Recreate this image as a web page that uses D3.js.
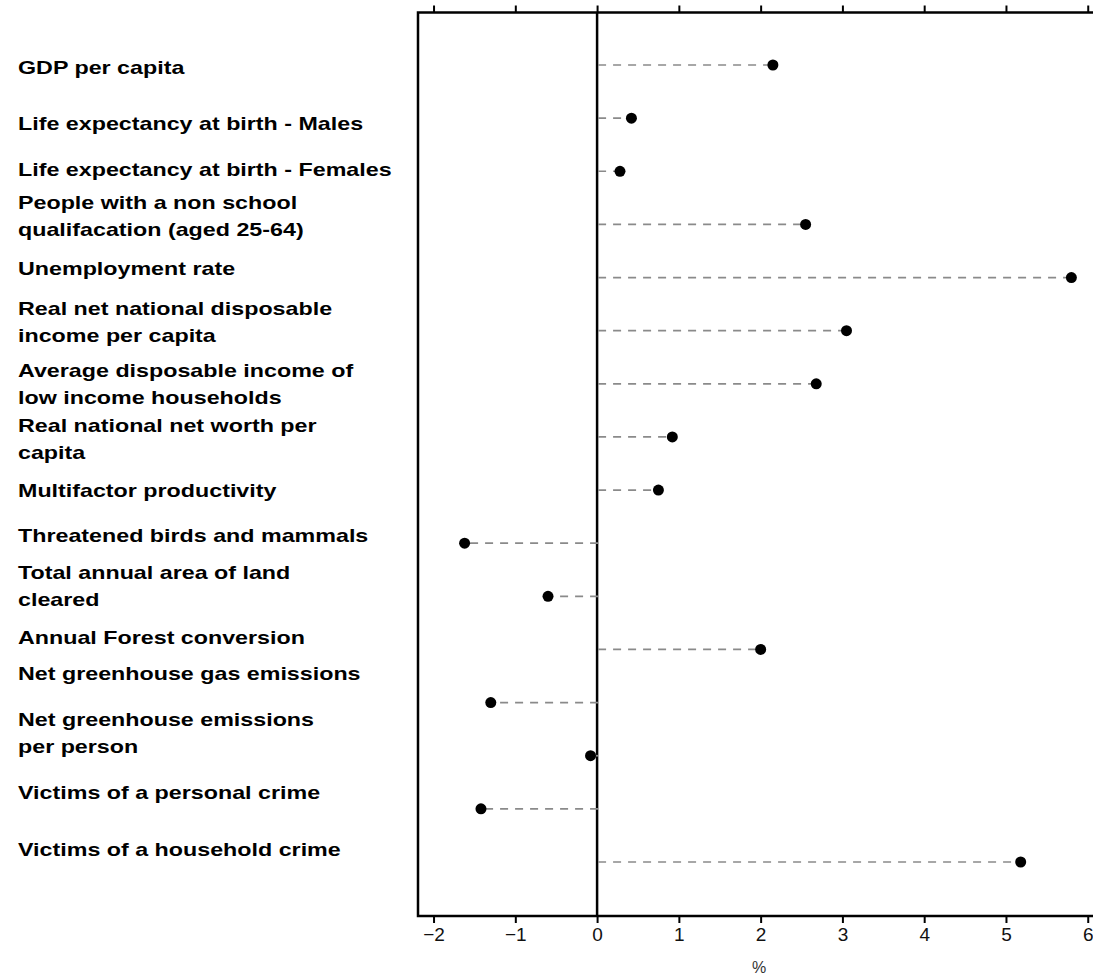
<!DOCTYPE html>
<html>
<head>
<meta charset="utf-8">
<script src="https://cdn.jsdelivr.net/npm/d3@7"></script>
<style>
  body { margin: 0; background: #fff; }
  svg { display: block; }
</style>
</head>
<body>
<div id="chart"></div>
<script>
// ******** data ********
const labels = [
  ['GDP per capita'],
  ['Life expectancy at birth - Males'],
  ['Life expectancy at birth - Females'],
  ['People with a non school', 'qualifacation (aged 25-64)'],
  ['Unemployment rate'],
  ['Real net national disposable', 'income per capita'],
  ['Average disposable income of', 'low income households'],
  ['Real national net worth per', 'capita'],
  ['Multifactor productivity'],
  ['Threatened birds and mammals'],
  ['Total annual area of land', 'cleared'],
  ['Annual Forest conversion'],
  ['Net greenhouse gas emissions'],
  ['Net greenhouse emissions', 'per person'],
  ['Victims of a personal crime'],
  ['Victims of a household crime']
];
const values = [2.15, 0.42, 0.28, 2.55, 5.8, 3.05, 2.68, 0.92, 0.75, -1.62, -0.6, 2.0, -1.3, -0.08, -1.42, 5.18];
const xTicks = [-2, -1, 0, 1, 2, 3, 4, 5, 6];
const axisTitle = '%';

// label placement relative to its row (the original labels sit a bit off the dots)
const labelShift = [2, 5, -2, -8, -9, -9, 0, 2, 0, -8, -10, -12, -29, -23, -16, -13];

//******** layout ********
const W = 1093, H = 976;
const plot = {left: 418, right: 1100, top: 12.5, bottom: 916};
const stretch = 1.33;   // text in the original is horizontally widened

const svg = d3.select('#chart').append('svg')
    .attr('width', W)
    .attr('height', H);

const x = d3.scaleLinear()
    .domain([-2.19, 6.15])
    .range([plot.left, plot.right]);

const y = d3.scalePoint()
    .domain(d3.range(values.length))
    .range([65, 862]);

// axes (ticks outward at top and bottom, labels only bottom)
const axisB = svg.append('g')
    .attr('transform', `translate(0,${plot.bottom})`)
    .call(d3.axisBottom(x).tickValues(xTicks).tickSize(7).tickSizeOuter(0).tickFormat(d3.format('d')));
axisB.select('.domain').remove();
axisB.selectAll('.tick line').attr('stroke', '#000').attr('stroke-width', 2);
axisB.selectAll('.tick text')
    .attr('font-family', 'Liberation Sans, Arial, sans-serif')
    .attr('font-size', 19)
    .attr('fill', '#111')
    .attr('y', 12)
    .attr('dy', '0.71em');

const axisT = svg.append('g')
    .attr('transform', `translate(0,${plot.top})`)
    .call(d3.axisTop(x).tickValues(xTicks).tickSize(7).tickSizeOuter(0).tickFormat(''));
axisT.select('.domain').remove();
axisT.selectAll('.tick line').attr('stroke', '#000').attr('stroke-width', 2);

svg.append('text')
    .attr('x', (plot.left + plot.right) / 2)
    .attr('y', 973)
    .attr('text-anchor', 'middle')
    .attr('font-family', 'Liberation Sans, Arial, sans-serif')
    .attr('font-size', 16)
    .attr('fill', '#333')
    .text(axisTitle);

// frame + zero line
svg.append('rect')
    .attr('x', plot.left)
    .attr('y', plot.top)
    .attr('width', plot.right - plot.left)
    .attr('height', plot.bottom - plot.top)
    .attr('fill', 'none')
    .attr('stroke', '#000')
    .attr('stroke-width', 2.5);

svg.append('line')
    .attr('x1', x(0)).attr('x2', x(0))
    .attr('y1', plot.top).attr('y2', plot.bottom)
    .attr('stroke', '#000')
    .attr('stroke-width', 2.5);

// dashed leaders from zero
svg.selectAll('.leader')
    .data(values)
  .enter().append('line')
    .attr('class', 'leader')
    .attr('x1', x(0) + 1)
    .attr('x2', d => x(d))
    .attr('y1', (d, i) => y(i))
    .attr('y2', (d, i) => y(i))
    .attr('stroke', '#8a8a8a')
    .attr('stroke-width', 1.7)
    .attr('stroke-dasharray', '8,7');

// dots
svg.selectAll('.dot')
    .data(values)
  .enter().append('circle')
    .attr('class', 'dot')
    .attr('cx', d => x(d))
    .attr('cy', (d, i) => y(i))
    .attr('r', 5.5)
    .attr('fill', '#000');

// row labels
const lab = svg.selectAll('.label')
    .data(labels)
  .enter().append('text')
    .attr('class', 'label')
    .attr('transform', (d, i) => {
      const c = y(i) + labelShift[i];
      const base = c - (d.length - 1) * 13.5 + 6.5;
      return `translate(18,${base}) scale(${stretch},1)`;
    })
    .attr('font-family', 'Liberation Sans, Arial, sans-serif')
    .attr('font-weight', 'bold')
    .attr('font-size', 17.5)
    .attr('fill', '#000');

lab.selectAll('tspan')
    .data(d => d)
  .enter().append('tspan')
    .attr('x', 0)
    .attr('dy', (d, i) => i === 0 ? 0 : 27)
    .text(d => d);
</script>
</body>
</html>
